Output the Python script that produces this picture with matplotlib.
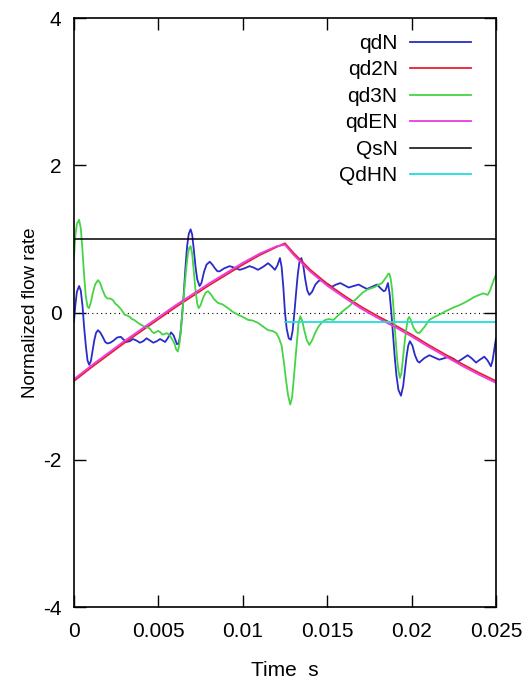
"""Normalized flow rates vs time."""

import numpy as np
import matplotlib.pyplot as plt

plt.rcParams['font.family'] = ['Liberation Sans', 'DejaVu Sans']
plt.rcParams['axes.unicode_minus'] = False

# qdN (blue), time in ms
t_qd = [0.0, 0.08, 0.17, 0.3, 0.4, 0.5, 0.6, 0.7, 0.8, 0.9, 1.0, 1.1, 1.2, 1.3, 1.42,
        1.55, 1.7, 1.85, 1.98, 2.15, 2.35, 2.55, 2.77, 2.95, 3.1, 3.3, 3.5, 3.7, 3.9,
        4.1, 4.3, 4.5, 4.7, 4.9, 5.1, 5.25, 5.4, 5.55, 5.75, 5.9, 6.0, 6.1, 6.2,
        6.3, 6.4, 6.5, 6.6, 6.7, 6.8, 6.91, 7.0, 7.1, 7.2, 7.3, 7.44, 7.55, 7.7,
        7.85, 8.04, 8.2, 8.35, 8.5, 8.63, 8.9, 9.22, 9.5, 9.82, 10.1, 10.4, 10.65,
        10.9, 11.2, 11.5, 11.7, 11.9, 12.05, 12.2, 12.3, 12.4, 12.5, 12.6, 12.72,
        12.85, 12.95, 13.05, 13.15, 13.25, 13.35, 13.47, 13.57, 13.7, 13.82, 13.94,
        14.1, 14.3, 14.5, 14.69, 15.0, 15.28, 15.53, 15.78, 16.02, 16.27, 16.57,
        16.87, 17.1, 17.36, 17.65, 17.95, 18.2, 18.35, 18.45, 18.6, 18.7, 18.8,
        18.9, 19.0, 19.1, 19.22, 19.37, 19.5, 19.6, 19.7, 19.8, 19.9, 20.05, 20.2,
        20.35, 20.46, 20.75, 21.05, 21.35, 21.64, 21.95, 22.23, 22.5, 22.73, 23.0,
        23.32, 23.55, 23.82, 24.05, 24.31, 24.5, 24.7, 24.8, 24.9, 25.0]
qdN = [-0.12, 0.1, 0.28, 0.36, 0.3, 0.1, -0.2, -0.45, -0.65, -0.71, -0.66, -0.52,
       -0.38, -0.28, -0.24, -0.27, -0.33, -0.4, -0.42, -0.41, -0.38, -0.34, -0.33,
       -0.37, -0.40, -0.39, -0.36, -0.38, -0.41, -0.39, -0.35, -0.38, -0.41, -0.39,
       -0.36, -0.38, -0.40, -0.35, -0.27, -0.31, -0.37, -0.43, -0.42, -0.3, -0.05,
       0.25, 0.6, 0.9, 1.07, 1.13, 1.06, 0.85, 0.62, 0.45, 0.36, 0.4, 0.55, 0.65,
       0.69, 0.65, 0.6, 0.56, 0.56, 0.6, 0.63, 0.61, 0.58, 0.6, 0.63, 0.61, 0.58,
       0.62, 0.67, 0.63, 0.58, 0.64, 0.74, 0.62, 0.35, 0.0, -0.22, -0.35, -0.37,
       -0.25, -0.02, 0.25, 0.5, 0.68, 0.74, 0.66, 0.45, 0.3, 0.24, 0.28, 0.38, 0.43,
       0.44, 0.39, 0.35, 0.38, 0.40, 0.37, 0.34, 0.36, 0.38, 0.35, 0.32, 0.35, 0.38,
       0.32, 0.29, 0.30, 0.40, 0.25, 0.0, -0.3, -0.6, -0.85, -1.05, -1.13, -1.0,
       -0.8, -0.6, -0.45, -0.39, -0.45, -0.58, -0.66, -0.68, -0.62, -0.58, -0.61,
       -0.64, -0.62, -0.60, -0.63, -0.67, -0.63, -0.58, -0.62, -0.68, -0.64, -0.60,
       -0.65, -0.73, -0.65, -0.5, -0.35]

# qd3N (green)
t_qd3 = [0.0, 0.08, 0.17, 0.3, 0.4, 0.5, 0.6, 0.7, 0.8, 0.89, 1.0, 1.1, 1.25, 1.42,
         1.55, 1.7, 1.85, 1.98, 2.15, 2.3, 2.45, 2.57, 2.8, 3.0, 3.15, 3.3, 3.45,
         3.56, 3.85, 4.15, 4.35, 4.5, 4.62, 4.74, 4.9, 5.0, 5.12, 5.24, 5.4, 5.5,
         5.62, 5.73, 5.85, 5.95, 6.05, 6.15, 6.25, 6.35, 6.45, 6.55, 6.65, 6.75,
         6.83, 6.91, 7.0, 7.1, 7.2, 7.3, 7.39, 7.5, 7.65, 7.8, 7.94, 8.1, 8.3, 8.53,
         8.8, 9.12, 9.4, 9.72, 10.0, 10.31, 10.6, 10.9, 11.2, 11.5, 11.75, 11.99,
         12.15, 12.3, 12.45, 12.55, 12.68, 12.81, 12.92, 13.0, 13.1, 13.2, 13.3,
         13.41, 13.53, 13.65, 13.8, 13.94, 14.1, 14.3, 14.49, 14.7, 14.89, 15.1,
         15.38, 15.6, 15.88, 16.1, 16.37, 16.6, 16.87, 17.1, 17.36, 17.6, 17.85,
         18.05, 18.25, 18.4, 18.5, 18.6, 18.68, 18.77, 18.85, 18.93, 19.0, 19.08,
         19.15, 19.23, 19.31, 19.4, 19.5, 19.6, 19.7, 19.78, 19.86, 19.95, 20.1,
         20.3, 20.46, 20.75, 21.05, 21.35, 21.64, 21.95, 22.23, 22.5, 22.83, 23.1,
         23.42, 23.7, 24.01, 24.25, 24.51, 24.65, 24.8, 24.9, 25.0]
qd3N = [0.75, 1.05, 1.2, 1.26, 1.15, 0.85, 0.5, 0.22, 0.08, 0.06, 0.14, 0.25, 0.38,
        0.44, 0.40, 0.3, 0.22, 0.19, 0.19, 0.17, 0.12, 0.10, 0.04, -0.03, -0.04,
        -0.06, -0.09, -0.10, -0.15, -0.19, -0.20, -0.22, -0.26, -0.28, -0.26, -0.25,
        -0.27, -0.30, -0.29, -0.28, -0.30, -0.33, -0.38, -0.42, -0.5, -0.53, -0.42,
        -0.2, 0.08, 0.35, 0.6, 0.8, 0.88, 0.9, 0.8, 0.55, 0.3, 0.12, 0.06, 0.1, 0.2,
        0.27, 0.29, 0.25, 0.18, 0.13, 0.11, 0.06, 0.01, -0.03, -0.06, -0.10, -0.11,
        -0.14, -0.19, -0.24, -0.25, -0.28, -0.35, -0.45, -0.7, -0.9, -1.12, -1.25,
        -1.15, -0.95, -0.68, -0.4, -0.15, -0.05, -0.12, -0.25, -0.38, -0.44, -0.38,
        -0.27, -0.19, -0.13, -0.10, -0.09, -0.10, -0.05, 0.01, 0.05, 0.10, 0.16,
        0.22, 0.27, 0.31, 0.33, 0.35, 0.38, 0.40, 0.45, 0.48, 0.52, 0.53, 0.45, 0.3,
        0.05, -0.2, -0.45, -0.65, -0.8, -0.89, -0.82, -0.6, -0.38, -0.2, -0.09,
        -0.06, -0.1, -0.2, -0.27, -0.28, -0.2, -0.10, -0.06, -0.03, 0.01, 0.04,
        0.07, 0.10, 0.13, 0.17, 0.21, 0.24, 0.26, 0.24, 0.3, 0.40, 0.46, 0.51]

# qd2N (red) and qdEN (magenta)
t_tri = [0, 1, 2, 3, 4, 5, 6, 7, 8, 9, 10, 11, 12, 12.5, 13, 14, 15, 16, 17, 18, 19,
         20, 21, 22, 23, 24, 25]
qd2N = [-0.93, -0.75, -0.58, -0.41, -0.25, -0.09, 0.07, 0.22, 0.37, 0.51, 0.65, 0.78,
        0.89, 0.94, 0.81, 0.58, 0.39, 0.23, 0.08, -0.05, -0.17, -0.30, -0.44, -0.57,
        -0.70, -0.82, -0.93]
qdEN = [-0.905, -0.725, -0.555, -0.385, -0.225, -0.065, 0.095, 0.245, 0.395, 0.535,
        0.675, 0.8, 0.9, 0.92, 0.785, 0.555, 0.365, 0.205, 0.055, -0.075, -0.195,
        -0.325, -0.465, -0.595, -0.725, -0.845, -0.955]

# QsN (black) and QdHN (cyan)
t_qs = [0, 25]
QsN = [1.0, 1.0]
t_qdh = [12.5, 25]
QdHN = [-0.135, -0.135]

fig = plt.figure(figsize=(5.32, 6.88), dpi=100)
ax = fig.add_axes([0.1391, 0.1177, 0.7932, 0.8561])

ms = 1e-3
ax.axhline(0, color='black', linestyle=(0, (1, 3)), linewidth=0.8)
ax.plot(np.array(t_qd) * ms, qdN, color='#2b2bc8', lw=1.3, label='qdN')
ax.plot(np.array(t_tri) * ms, qd2N, color='#e8202e', lw=1.3, label='qd2N')
ax.plot(np.array(t_qd3) * ms, qd3N, color='#44d444', lw=1.3, label='qd3N')
ax.plot(np.array(t_tri) * ms, qdEN, color='#e83ce0', lw=1.3, label='qdEN')
ax.plot(np.array(t_qs) * ms, QsN, color='black', lw=1.1, label='QsN')
ax.plot(np.array(t_qdh) * ms, QdHN, color='#22dddd', lw=1.3, label='QdHN')

ax.set_xlim(0, 0.025)
ax.set_ylim(-4, 4)
ax.set_xticks([0, 0.005, 0.01, 0.015, 0.02, 0.025])
ax.set_xticklabels(['0', '0.005', '0.01', '0.015', '0.02', '0.025'])
ax.set_yticks([-4, -2, 0, 2, 4])
ax.tick_params(direction='in', length=8.5, width=1, top=True, right=True,
               labelsize=15)
ax.tick_params(axis='x', pad=11)
ax.tick_params(axis='y', pad=9)
for s in ax.spines.values():
    s.set_linewidth(1.2)

ax.set_xlabel('Time  s', fontsize=15, labelpad=14)
ax.set_ylabel('Normalized flow rate', fontsize=13.5, labelpad=3)

ax.legend(loc='upper right', bbox_to_anchor=(0.9408, 0.973), markerfirst=False,
          frameon=False, fontsize=15, handlelength=2.95, handletextpad=0.57,
          labelspacing=0.36, borderpad=0, borderaxespad=0)

fig.savefig('out.png', dpi=100)
